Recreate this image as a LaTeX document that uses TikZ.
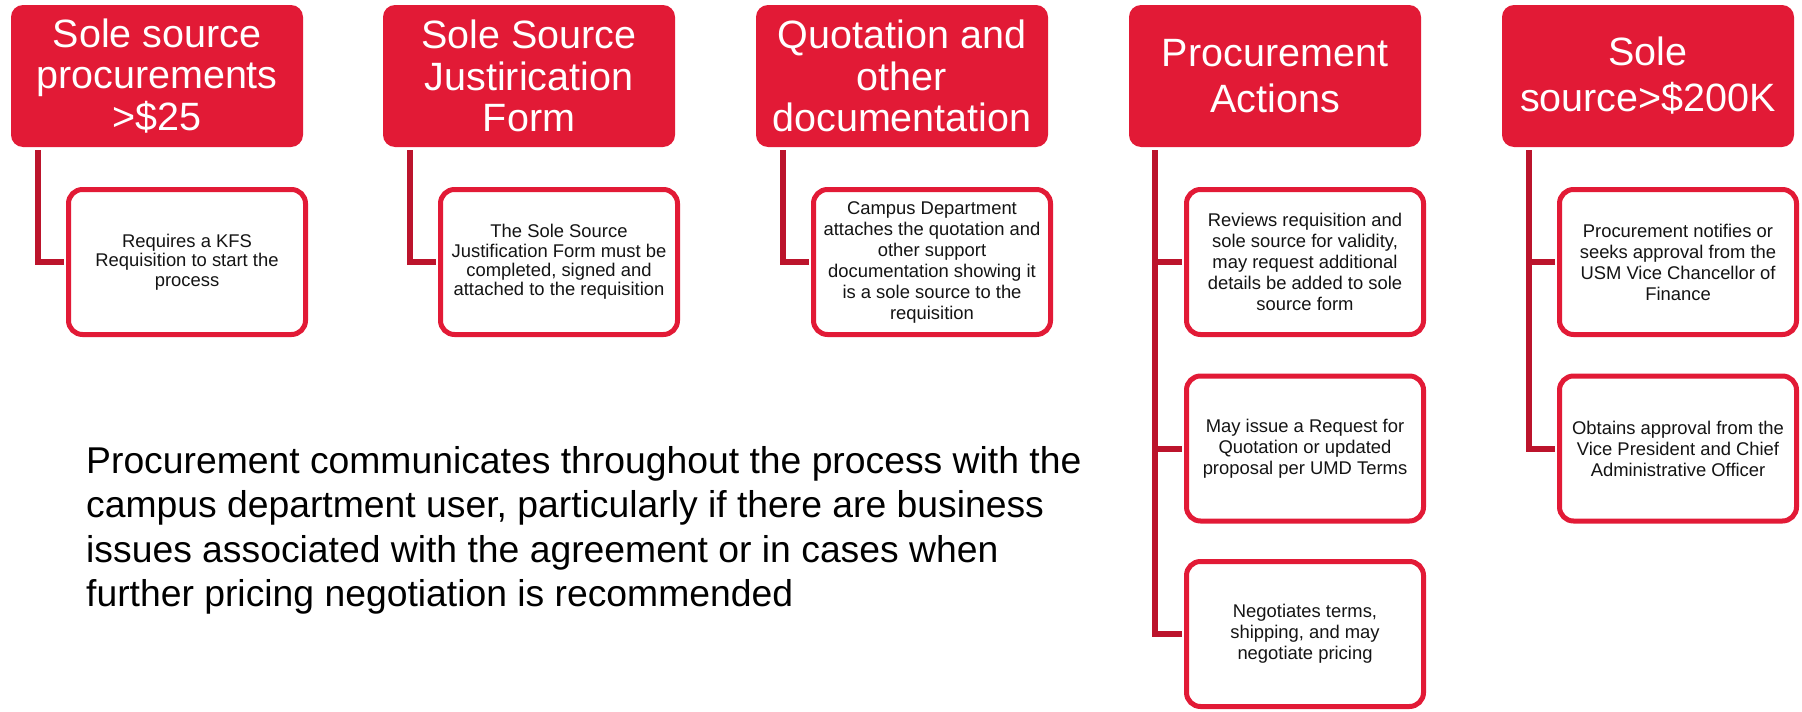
\documentclass[tikz,border=0pt]{standalone}
\usepackage{fontspec}
\setmainfont{Liberation Sans}
\definecolor{hred}{RGB}{226,26,54}
\definecolor{lred}{RGB}{188,20,44}
\definecolor{txt}{RGB}{20,20,20}
\begin{document}
\begin{tikzpicture}[x=1pt,y=-1pt,
  header/.style={fill=hred, rounded corners=12pt, minimum width=292pt, minimum height=142pt,
    inner sep=0pt, text=white, align=center, font=\fontsize{39.5}{41.5}\selectfont},
  headertwo/.style={header, font=\fontsize{39.5}{46}\selectfont},
  child/.style={draw=hred, line width=5pt, fill=white, rounded corners=14pt,
    minimum width=237pt, minimum height=145pt, inner sep=0pt, text=txt, align=center,
    font=\fontsize{18.4}{21}\selectfont},
  childtight/.style={child, font=\fontsize{18.4}{19.4}\selectfont},
  conn/.style={draw=lred, line width=6pt, shorten >=2.5pt},
  bigtext/.style={inner sep=0pt, align=left, text=black, anchor=north west,
    font=\fontsize{37.3}{44.5}\selectfont}]
\useasboundingbox (0,0) rectangle (1802,712);

% headers
\node[header] (h1) at (157,76) {Sole source\\procurements\\>\$25};
\node[header] (h2) at (529,76) {Sole Source\\Justirication\\Form};
\node[header] (h3) at (902,76) {Quotation and\\other\\documentation};
\node[headertwo] (h4) at (1275,76) {Procurement\\Actions};
\node[headertwo] (h5) at (1648,76) {Sole\\source>\$200K};

% children
\node[childtight] (c1) at (187,262) {Requires a KFS\\Requisition to start the\\process};
\node[childtight] (c2) at (559,262) {The Sole Source\\Justification Form must be\\completed, signed and\\attached to the requisition};
\node[child] (c3) at (932,262) {Campus Department\\attaches the quotation and\\other support\\documentation showing it\\is a sole source to the\\requisition};
\node[child] (c41) at (1305,262) {Reviews requisition and\\sole source for validity,\\may request additional\\details be added to sole\\source form};
\node[child] (c42) at (1305,448.5) {May issue a Request for\\Quotation or updated\\proposal per UMD Terms};
\node[child] (c43) at (1305,634) {Negotiates terms,\\shipping, and may\\negotiate pricing};
\node[child] (c51) at (1678,262) {Procurement notifies or\\seeks approval from the\\USM Vice Chancellor of\\Finance};
\node[child] (c52) at (1678,448.5) {Obtains approval from the\\Vice President and Chief\\Administrative Officer};

% connector tops
\coordinate (t1) at (38,150);
\coordinate (t2) at (410,150);
\coordinate (t3) at (783,150);
\coordinate (t4) at (1155,150);
\coordinate (t5) at (1529,150);

\draw[conn] (t1) |- (c1.west);
\draw[conn] (t2) |- (c2.west);
\draw[conn] (t3) |- (c3.west);
\draw[conn] (t4) |- (c43.west);
\draw[conn] (t4 |- c41.west) -- (c41.west);
\draw[conn] (t4 |- c42.west) -- (c42.west);
\draw[conn] (t5) |- (c52.west);
\draw[conn] (t5 |- c51.west) -- (c51.west);

% note
\node[bigtext] (note) at (86,446) {Procurement communicates throughout the process with the\\campus department user, particularly if there are business\\issues associated with the agreement or in cases when\\further pricing negotiation is recommended};
\end{tikzpicture}
\end{document}
